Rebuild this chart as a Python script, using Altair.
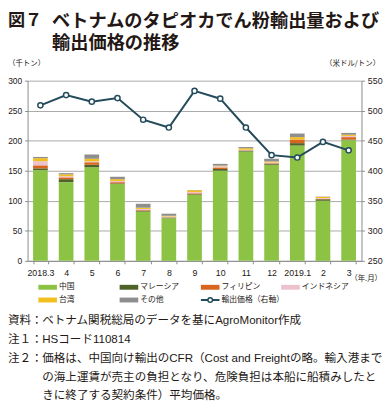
import altair as alt
import pandas as pd

months = ["2018.3", "4", "5", "6", "7", "8", "9", "10", "11", "12", "2019.1", "2", "3"]
countries = ["中国", "マレーシア", "フィリピン", "インドネシア", "台湾", "その他"]
china = [151, 131, 156, 128, 82, 71, 110, 150, 182, 160, 192, 100, 201]
malaysia = [3, 5, 4, 1, 1.5, 1, 1, 3, 1.5, 1.5, 4, 2.5, 1]
philippines = [5, 3, 4, 2, 1, 0.5, 1.5, 2.5, 0.5, 1, 6, 0.5, 4]
indonesia = [7, 2, 2, 2, 2, 1.5, 2, 2, 1, 1.5, 0, 1.5, 2]
taiwan = [5, 3, 4, 3, 2, 1, 3, 1, 2.5, 1.5, 4, 2, 2]
others = [2, 2, 7, 4, 6.5, 3.5, 0.5, 3, 2, 4.5, 6, 0.5, 3]
price = [509, 526, 515, 521, 485, 472, 533, 520, 472, 426, 422, 448, 434]

colors = ["#8dc345", "#4f6228", "#d9661f", "#ecc3cc", "#f2c01e", "#8e8e8e"]
line_color = "#234b5b"
JP = "Noto Sans CJK JP"
MIX = "Liberation Sans, Noto Sans CJK JP"
NUM = "Liberation Sans"
TXT = "#231815"

series = [china, malaysia, philippines, indonesia, taiwan, others]
rows = []
for ci, (c, vals) in enumerate(zip(countries, series)):
    for m, v in zip(months, vals):
        rows.append({"month": m, "country": c, "value": v, "ord": ci})
df = pd.DataFrame(rows)
pdf = pd.DataFrame({"month": months, "price": price})

LEFT, TOP = 28, 78          # page position of plot area
W, H = 341, 184

xdef = alt.X(
    "month:N", sort=months,
    scale=alt.Scale(paddingInner=0.428, paddingOuter=0.214),
    axis=alt.Axis(title=None, labelAngle=0, tickBand="extent", tickSize=3,
                  labelPadding=5, labelFontSize=9, labelFont=NUM, labelColor=TXT,
                  domainColor="#8a8a8a", tickColor="#8a8a8a", grid=False),
)

bars = alt.Chart(df).mark_bar().encode(
    x=xdef,
    y=alt.Y("value:Q", stack="zero",
            scale=alt.Scale(domain=[0, 300], nice=False),
            axis=alt.Axis(title=None, values=[0, 50, 100, 150, 200, 250, 300],
                          grid=True, gridColor="#a8a8a8", gridWidth=1,
                          domainColor="#8a8a8a", tickColor="#8a8a8a", tickSize=3,
                          labelPadding=3, labelFontSize=8.6, labelFont=NUM, labelColor=TXT)),
    color=alt.Color("country:N", scale=alt.Scale(domain=countries, range=colors), legend=None),
    order=alt.Order("ord:Q", sort="ascending"),
)

ydef2 = alt.Y("price:Q", scale=alt.Scale(domain=[250, 550], nice=False),
              axis=alt.Axis(title=None, orient="right", values=[250, 300, 350, 400, 450, 500, 550],
                            grid=False, domainColor="#8a8a8a", tickColor="#8a8a8a", tickSize=3,
                            labelPadding=3, labelFontSize=9, labelFont=NUM, labelColor=TXT))
line = alt.Chart(pdf).mark_line(color=line_color, strokeWidth=2).encode(x=xdef, y=ydef2)
pts = alt.Chart(pdf).mark_point(filled=True, fill="white", stroke=line_color, strokeWidth=1.5,
                                size=28, opacity=1).encode(x=xdef, y=ydef2)
price_layer = alt.layer(line, pts)


def txt(s, x, y, size, align="left", weight="normal", font=MIX):
    return alt.Chart(alt.Data(values=[{"t": s}])).mark_text(
        align=align, baseline="middle", fontSize=size, fontWeight=weight, font=font, color=TXT
    ).encode(x=alt.value(x), y=alt.value(y), text="t:N")


def rect(x0, x1, y0, y1, c):
    return alt.Chart(alt.Data(values=[{"a": 1}])).mark_rect(color=c).encode(
        x=alt.value(x0), x2=alt.value(x1), y=alt.value(y0), y2=alt.value(y1))


def px(x):
    return x - LEFT


def py(y):
    return y - TOP


extras = []
# title
extras.append(txt("図７", px(8), py(17.5), 17.5, weight="bold", font=JP))
extras.append(txt("ベトナムのタピオカでん粉輸出量および", px(53), py(17.5), 18.6, weight="bold", font=JP))
extras.append(txt("輸出価格の推移", px(53), py(40), 18.6, weight="bold", font=JP))
# units
extras.append(txt("（千トン）", px(8), py(61.5), 7.6, font=JP))
extras.append(txt("（米ドル/トン）", px(388), py(61.5), 7.6, align="right", font=JP))
extras.append(txt("（年.月）", px(390), py(281), 7.6, align="right", font=JP))

# legend
col_x = [39, 122, 205, 287]
row_y = [289, 302]
for i, name in enumerate(countries):
    cx = col_x[i % 4]
    ry = row_y[i // 4]
    extras.append(rect(px(cx), px(cx + 19), py(ry) - 2.5, py(ry) + 2.5, colors[i]))
    extras.append(txt(name, px(cx + 21), py(ry), 8, font=JP))
lx = col_x[2]
ly = row_y[1]
extras.append(alt.Chart(alt.Data(values=[{"a": 1}])).mark_rule(color=line_color, strokeWidth=2).encode(
    x=alt.value(px(lx)), x2=alt.value(px(lx + 19)), y=alt.value(py(ly))))
extras.append(alt.Chart(alt.Data(values=[{"a": 1}])).mark_point(
    filled=True, fill="white", stroke=line_color, strokeWidth=1.5, size=22, opacity=1).encode(
    x=alt.value(px(lx + 9.5)), y=alt.value(py(ly))))
extras.append(txt("輸出価格（右軸）", px(lx + 21), py(ly), 8, font=JP))

# notes
NF = 11.8
note_y = [322.7, 342.2, 361.5, 380.5, 399.3]
extras.append(txt("資料：", px(8), py(note_y[0]), NF))
extras.append(txt("ベトナム関税総局のデータを基にAgroMonitor作成", px(43), py(note_y[0]), NF))
extras.append(txt("注１：", px(8), py(note_y[1]), NF))
extras.append(txt("HSコード110814", px(43), py(note_y[1]), NF))
extras.append(txt("注２：", px(8), py(note_y[2]), NF))
extras.append(txt("価格は、中国向け輸出のCFR（Cost and Freightの略。輸入港まで", px(43), py(note_y[2]), NF))
extras.append(txt("の海上運賃が売主の負担となり、危険負担は本船に船積みしたと", px(43), py(note_y[3]), NF))
extras.append(txt("きに終了する契約条件）平均価格。", px(43), py(note_y[4]), NF))

chart = alt.layer(bars, price_layer, *extras).resolve_scale(y="independent").properties(
    width=W, height=H,
    autosize=alt.AutoSizeParams(type="none"),
    padding={"left": LEFT - 8, "top": TOP - 8, "right": 392 - 8 - (LEFT - 8) - W, "bottom": 397 - (TOP - 8) - H},
).configure_view(stroke=None)

chart.save("out.html", embed_options={"renderer": "svg", "actions": False})
